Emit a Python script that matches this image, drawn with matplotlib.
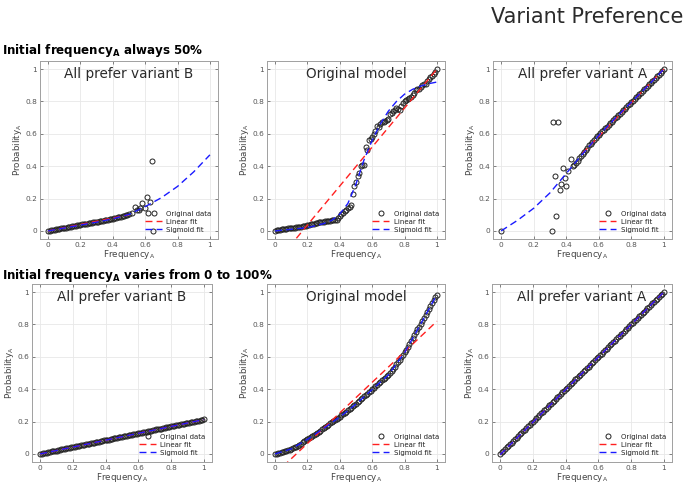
import matplotlib
matplotlib.use('Agg')
import matplotlib.pyplot as plt

# frequency grid used by the dense runs (0 .. 1 in steps of 0.01)
freq_grid = [0.00, 0.01, 0.02, 0.03, 0.04, 0.05, 0.06, 0.07, 0.08, 0.09,
             0.10, 0.11, 0.12, 0.13, 0.14, 0.15, 0.16, 0.17, 0.18, 0.19,
             0.20, 0.21, 0.22, 0.23, 0.24, 0.25, 0.26, 0.27, 0.28, 0.29,
             0.30, 0.31, 0.32, 0.33, 0.34, 0.35, 0.36, 0.37, 0.38, 0.39,
             0.40, 0.41, 0.42, 0.43, 0.44, 0.45, 0.46, 0.47, 0.48, 0.49,
             0.50, 0.51, 0.52, 0.53, 0.54, 0.55, 0.56, 0.57, 0.58, 0.59,
             0.60, 0.61, 0.62, 0.63, 0.64, 0.65, 0.66, 0.67, 0.68, 0.69,
             0.70, 0.71, 0.72, 0.73, 0.74, 0.75, 0.76, 0.77, 0.78, 0.79,
             0.80, 0.81, 0.82, 0.83, 0.84, 0.85, 0.86, 0.87, 0.88, 0.89,
             0.90, 0.91, 0.92, 0.93, 0.94, 0.95, 0.96, 0.97, 0.98, 0.99, 1.00]

# ---- top row: initial frequency always 50% ----
# all prefer variant B
tl_x = freq_grid[:51] + [0.52, 0.54, 0.55, 0.56, 0.57, 0.58, 0.60, 0.61, 0.62, 0.63, 0.64, 0.65]
tl_y = [0.000, 0.002, 0.004, 0.006, 0.008, 0.010, 0.012, 0.013, 0.015, 0.017,
        0.019, 0.021, 0.022, 0.024, 0.026, 0.028, 0.030, 0.032, 0.034, 0.036,
        0.038, 0.040, 0.041, 0.043, 0.045, 0.047, 0.049, 0.050, 0.052, 0.054,
        0.056, 0.058, 0.060, 0.062, 0.064, 0.066, 0.068, 0.070, 0.072, 0.074,
        0.076, 0.078, 0.081, 0.083, 0.086, 0.088, 0.091, 0.094, 0.096, 0.099,
        0.102,
        0.110, 0.146, 0.130, 0.132, 0.140, 0.170, 0.140, 0.210, 0.110, 0.180, 0.430, 0.000]
tl_fit_x = [0.0, 0.1, 0.2, 0.3, 0.4, 0.5, 0.6, 0.7, 0.8, 0.9, 1.0]
tl_sig_y = [0.0, 0.018, 0.036, 0.054, 0.075, 0.102, 0.150, 0.205, 0.275, 0.365, 0.470]
tl_lin_x = [0.0, 0.5]
tl_lin_y = [0.0, 0.100]

# original model
tm_y = [0.000, 0.003, 0.005, 0.007, 0.009, 0.011, 0.013, 0.014, 0.015, 0.017,
        0.018, 0.020, 0.021, 0.023, 0.024, 0.026, 0.027, 0.029, 0.031, 0.033,
        0.035, 0.038, 0.040, 0.042, 0.045, 0.047, 0.049, 0.052, 0.054, 0.056,
        0.058, 0.060, 0.062, 0.063, 0.064, 0.066, 0.067, 0.068, 0.070, 0.080,
        0.090, 0.105, 0.110, 0.120, 0.130, 0.140, 0.150, 0.160, 0.230, 0.280,
        0.300, 0.340, 0.360, 0.400, 0.410, 0.410, 0.520, 0.500, 0.560, 0.570,
        0.580, 0.600, 0.620, 0.650, 0.640, 0.660, 0.670, 0.675, 0.680, 0.685,
        0.690, 0.720, 0.730, 0.740, 0.750, 0.760, 0.755, 0.750, 0.770, 0.790,
        0.800, 0.810, 0.815, 0.820, 0.830, 0.840, 0.855, 0.870, 0.875, 0.880,
        0.890, 0.900, 0.905, 0.910, 0.925, 0.940, 0.950, 0.960, 0.970, 0.985, 1.000]
tm_fit_x = [0.0, 0.1, 0.2, 0.3, 0.35, 0.4, 0.45, 0.5, 0.55, 0.6, 0.65, 0.7, 0.75, 0.8, 0.85,
            0.9, 0.95, 1.0]
tm_sig_y = [0.0, 0.010, 0.020, 0.045, 0.065, 0.105, 0.170, 0.290, 0.440, 0.560, 0.660, 0.740,
            0.800, 0.845, 0.875, 0.895, 0.910, 0.920]
tm_lin_x = [0.0, 1.0]
tm_lin_y = [-0.204, 1.000]

# all prefer variant A
tr_x = [0.00, 0.31, 0.32, 0.33, 0.34, 0.35, 0.36, 0.37, 0.38, 0.39, 0.40, 0.41, 0.43, 0.44,
        0.45] + freq_grid[46:]
tr_y = [0.000, 0.000, 0.670, 0.340, 0.095, 0.670, 0.250, 0.290, 0.390, 0.330, 0.280, 0.370,
        0.445, 0.400, 0.410,
        0.420, 0.430, 0.450, 0.460, 0.475,
        0.490, 0.500, 0.515, 0.530, 0.540, 0.550, 0.560, 0.575, 0.585, 0.595,
        0.605, 0.615, 0.625, 0.635, 0.645, 0.655, 0.665, 0.675, 0.685, 0.695,
        0.705, 0.715, 0.725, 0.735, 0.745, 0.755, 0.765, 0.775, 0.785, 0.795,
        0.805, 0.815, 0.825, 0.835, 0.845, 0.855, 0.865, 0.875, 0.885, 0.895,
        0.905, 0.915, 0.925, 0.935, 0.945, 0.955, 0.965, 0.975, 0.990, 1.000]
tr_fit_x = [0.0, 0.1, 0.2, 0.3, 0.4, 0.5, 0.6, 0.7, 0.8, 0.9, 1.0]
tr_sig_y = [0.0, 0.065, 0.140, 0.235, 0.355, 0.475, 0.590, 0.695, 0.795, 0.895, 1.0]
tr_lin_x = [0.5, 1.0]
tr_lin_y = [0.480, 1.000]

# ---- bottom row: initial frequency varies from 0 to 100% ----
bl_y = [0.000, 0.002, 0.004, 0.006, 0.008, 0.011, 0.013, 0.015, 0.017, 0.019,
        0.021, 0.023, 0.025, 0.028, 0.030, 0.032, 0.034, 0.036, 0.038, 0.040,
        0.042, 0.045, 0.047, 0.049, 0.051, 0.053, 0.055, 0.057, 0.059, 0.062,
        0.064, 0.066, 0.068, 0.070, 0.072, 0.074, 0.076, 0.079, 0.081, 0.083,
        0.085, 0.087, 0.089, 0.091, 0.093, 0.096, 0.098, 0.100, 0.102, 0.104,
        0.106, 0.108, 0.110, 0.113, 0.115, 0.117, 0.119, 0.121, 0.123, 0.125,
        0.127, 0.130, 0.132, 0.134, 0.136, 0.138, 0.140, 0.142, 0.144, 0.147,
        0.149, 0.151, 0.153, 0.155, 0.157, 0.159, 0.161, 0.164, 0.166, 0.168,
        0.170, 0.172, 0.174, 0.176, 0.178, 0.181, 0.183, 0.185, 0.187, 0.189,
        0.191, 0.193, 0.195, 0.198, 0.200, 0.202, 0.204, 0.206, 0.208, 0.210, 0.213]
bl_fit_x = [0.0, 1.0]
bl_lin_y = [0.0, 0.212]
bl_sig_y = [0.0, 0.212]

bm_y = [0.000, 0.002, 0.005, 0.008, 0.011, 0.014, 0.017, 0.021, 0.024, 0.027,
        0.031, 0.035, 0.040, 0.045, 0.051, 0.057, 0.064, 0.071, 0.078, 0.085,
        0.092, 0.098, 0.104, 0.110, 0.116, 0.123, 0.130, 0.137, 0.144, 0.152,
        0.160, 0.167, 0.174, 0.181, 0.188, 0.195, 0.202, 0.209, 0.216, 0.223,
        0.230, 0.238, 0.246, 0.254, 0.262, 0.270, 0.278, 0.286, 0.294, 0.302,
        0.310, 0.319, 0.328, 0.337, 0.346, 0.355, 0.364, 0.373, 0.382, 0.391,
        0.400, 0.409, 0.418, 0.427, 0.436, 0.445, 0.454, 0.463, 0.472, 0.481,
        0.490, 0.502, 0.514, 0.527, 0.540, 0.553, 0.567, 0.581, 0.596, 0.611,
        0.627, 0.644, 0.661, 0.679, 0.697, 0.715, 0.733, 0.751, 0.769, 0.787,
        0.805, 0.823, 0.841, 0.859, 0.877, 0.895, 0.913, 0.931, 0.949, 0.967, 0.985]
bm_fit_x = [0.0, 0.1, 0.2, 0.3, 0.4, 0.5, 0.6, 0.7, 0.8, 0.9, 1.0]
bm_sig_y = [0.0, 0.031, 0.090, 0.158, 0.228, 0.308, 0.398, 0.488, 0.625, 0.803, 0.985]
bm_lin_x = [0.0, 1.0]
bm_lin_y = [-0.124, 0.820]

br_y = list(freq_grid)   # read as probability == frequency all the way
br_fit_x = [0.0, 1.0]
br_lin_y = [-0.005, 1.0]
br_sig_y = [-0.005, 1.0]

panels = [
    # (left, top, width in px), title, data x, data y, linear x/y, sigmoid x/y
    ((40, 61, 178), 'All prefer variant B', tl_x, tl_y, tl_lin_x, tl_lin_y, tl_fit_x, tl_sig_y),
    ((267, 61, 178), 'Original model', freq_grid, tm_y, tm_lin_x, tm_lin_y, tm_fit_x, tm_sig_y),
    ((493, 61, 179), 'All prefer variant A', tr_x, tr_y, tr_lin_x, tr_lin_y, tr_fit_x, tr_sig_y),
    ((32, 284, 180), 'All prefer variant B', freq_grid, bl_y, bl_fit_x, bl_lin_y, bl_fit_x, bl_sig_y),
    ((267, 284, 178), 'Original model', freq_grid, bm_y, bm_lin_x, bm_lin_y, bm_fit_x, bm_sig_y),
    ((492, 284, 180), 'All prefer variant A', freq_grid, br_y, br_fit_x, br_lin_y, br_fit_x, br_sig_y),
]

W, H = 685, 486
fig = plt.figure(figsize=(6.85, 4.86), dpi=100)
ticks = [0, 0.2, 0.4, 0.6, 0.8, 1]
tick_labels = ['0', '0.2', '0.4', '0.6', '0.8', '1']

for (left, top, width), title, dx, dy, lx, ly, sx, sy in panels:
    ax = fig.add_axes([left / W, 1 - (top + 178) / H, width / W, 178 / H])
    ax.plot(dx, dy, 'o', mfc='none', mec='#222222', ms=3.6, mew=0.7, label='Original data')
    ax.plot(lx, ly, '--', color='#ff2020', lw=1.0, dashes=(5, 3), label='Linear fit')
    ax.plot(sx, sy, '--', color='#1a1aff', lw=1.0, dashes=(5, 3), label='Sigmoid fit')
    ax.set_xlim(-0.05, 1.05)
    ax.set_ylim(-0.05, 1.05)
    ax.set_xticks(ticks)
    ax.set_yticks(ticks)
    ax.set_xticklabels(tick_labels)
    ax.set_yticklabels(tick_labels)
    ax.grid(True, color='#e8e8e8', lw=0.6)
    ax.set_axisbelow(True)
    for s in ax.spines.values():
        s.set_color('#a0a0a0')
        s.set_linewidth(0.7)
    ax.tick_params(labelsize=5.3, colors='#555555', length=2.5, width=0.5,
                   direction='in', top=True, right=True, pad=2)
    ax.tick_params(axis='x', pad=2.5)
    ax.set_xlabel('Frequency$_\\mathregular{A}$', fontsize=6.3, color='#444444', labelpad=0)
    ax.set_ylabel('Probability$_\\mathregular{A}$', fontsize=6.3, color='#444444', labelpad=1)
    ax.text(0.5, 0.965, title, transform=ax.transAxes, ha='center', va='top',
            fontsize=9.8, color='#2a2a2a')
    leg = ax.legend(loc='lower right', fontsize=5.0, frameon=False, handlelength=2.5,
                    borderaxespad=0.5, labelspacing=0.3, handletextpad=0.6)
    for t in leg.get_texts():
        t.set_color('#222222')

fig.text(0.997, 0.985, 'Variant Preference', ha='right', va='top', fontsize=15,
         color='#2a2a2a')
fig.text(0.003, 1 - 54 / H, 'Initial frequency$_\\mathregular{A}$ always 50%', ha='left',
         va='baseline', fontsize=8.6, fontweight='bold')
fig.text(0.003, 1 - 279 / H, 'Initial frequency$_\\mathregular{A}$ varies from 0 to 100%',
         ha='left', va='baseline', fontsize=8.6, fontweight='bold')

fig.savefig('out.png', dpi=100)
